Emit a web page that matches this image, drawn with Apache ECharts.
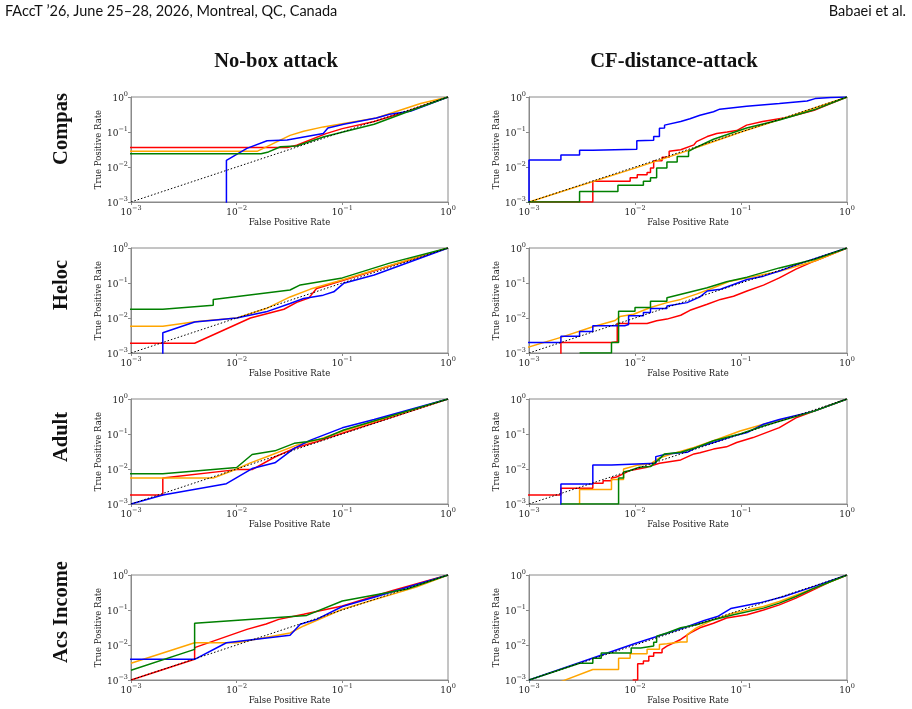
<!DOCTYPE html>
<html>
<head>
<meta charset="utf-8">
<script src="https://cdn.jsdelivr.net/npm/echarts@6/dist/echarts.min.js"></script>
<style>
  html, body { margin: 0; padding: 0; background: #fff; }
  #chart { width: 912px; height: 709px; }
</style>
</head>
<body>
<div id="chart"></div>
<script>
// labels
const datasets = ['Compas', 'Heloc', 'Adult', 'Acs Income'];
const attacks = ['No-box attack', 'CF-distance-attack'];
const curveColors = ['#ff0000', '#ffa500', '#0000ff', '#008000'];
const diagonal = [[0.001, 0.001], [1, 1]];

// ROC curves as [fpr, tpr] pairs (log-log)
// --- Compas
const compasNoboxRed = [[0.0001,0.036],[0.03,0.036],[0.037,0.042],[0.07,0.09],[0.1,0.125],[0.2,0.2],[0.4,0.38],[1,1]];
const compasNoboxOrange = [[0.0001,0.028],[0.0156,0.028],[0.032,0.08],[0.043,0.105],[0.066,0.14],[0.21,0.25],[0.55,0.65],[1,1]];
const compasNoboxBlue = [[0.008,0.0001],[0.008,0.0155],[0.0125,0.034],[0.0194,0.056],[0.03,0.059],[0.066,0.09],[0.073,0.13],[0.103,0.166],[0.21,0.25],[0.28,0.32],[0.44,0.39],[1,1]];
const compasNoboxGreen = [[0.0001,0.024],[0.017,0.024],[0.02,0.027],[0.026,0.038],[0.037,0.04],[0.067,0.073],[0.2,0.166],[0.38,0.345],[1,1]];

const compasCfRed = [[0.0001,0.001],[0.004,0.001],[0.004,0.0039],[0.009,0.0039],[0.009,0.0049],[0.0105,0.0049],[0.0105,0.006],[0.013,0.006],[0.013,0.007],[0.014,0.007],[0.014,0.0093],[0.015,0.0093],[0.015,0.015],[0.018,0.015],[0.018,0.019],[0.021,0.019],[0.021,0.028],[0.027,0.031],[0.036,0.043],[0.038,0.053],[0.048,0.074],[0.059,0.091],[0.074,0.1],[0.091,0.11],[0.113,0.157],[0.16,0.2],[0.27,0.26],[0.49,0.42],[0.7,0.65],[1,1]];
const compasCfOrange = [[0.001,0.001],[0.01,0.0093],[0.03,0.028],[0.06,0.058],[0.1,0.1],[0.3,0.29],[1,1]];
const compasCfBlue = [[0.001,0.0001],[0.001,0.0158],[0.002,0.0158],[0.002,0.022],[0.003,0.022],[0.003,0.03],[0.004,0.03],[0.004,0.032],[0.0104,0.032],[0.0104,0.056],[0.015,0.058],[0.015,0.074],[0.017,0.074],[0.017,0.127],[0.019,0.13],[0.019,0.157],[0.027,0.2],[0.033,0.24],[0.041,0.3],[0.055,0.38],[0.063,0.45],[0.113,0.54],[0.23,0.65],[0.42,0.77],[0.5,0.9],[0.7,0.96],[1,1]];
const compasCfGreen = [[0.0001,0.001],[0.003,0.001],[0.003,0.002],[0.0069,0.002],[0.0069,0.003],[0.012,0.003],[0.012,0.0039],[0.014,0.0039],[0.014,0.0049],[0.016,0.0049],[0.016,0.0093],[0.02,0.0093],[0.02,0.014],[0.025,0.014],[0.025,0.02],[0.032,0.02],[0.032,0.028],[0.036,0.034],[0.055,0.062],[0.113,0.13],[0.23,0.22],[0.49,0.43],[1,1]];

// --- Heloc
const helocNoboxRed = [[0.0001,0.0019],[0.004,0.0019],[0.0135,0.01],[0.028,0.0178],[0.037,0.028],[0.048,0.037],[0.057,0.07],[0.089,0.105],[1,1]];
const helocNoboxOrange = [[0.0001,0.0058],[0.002,0.0058],[0.0042,0.008],[0.01,0.01],[0.019,0.0186],[0.032,0.04],[0.05,0.067],[0.089,0.11],[1,1]];
const helocNoboxBlue = [[0.002,0.0001],[0.002,0.0038],[0.004,0.0077],[0.01,0.01],[0.019,0.015],[0.032,0.026],[0.043,0.036],[0.066,0.045],[0.083,0.056],[0.103,0.098],[0.2,0.17],[1,1]];
const helocNoboxGreen = [[0.0001,0.0178],[0.002,0.0178],[0.006,0.023],[0.006,0.034],[0.032,0.063],[0.04,0.088],[0.1,0.14],[0.28,0.37],[1,1]];

const helocCfRed = [[0.002,0.0001],[0.002,0.002],[0.006,0.002],[0.0068,0.0021],[0.0068,0.007],[0.013,0.007],[0.013,0.0075],[0.016,0.0083],[0.02,0.0093],[0.027,0.012],[0.033,0.0166],[0.048,0.0247],[0.064,0.034],[0.085,0.042],[0.114,0.059],[0.163,0.087],[0.23,0.14],[0.33,0.25],[0.49,0.42],[1,1]];
const helocCfOrange = [[0.0005,0.0008],[0.002,0.0028],[0.004,0.0056],[0.0065,0.0085],[0.0065,0.0095],[0.0072,0.011],[0.0097,0.0128],[0.014,0.02],[0.02,0.0275],[0.027,0.034],[0.038,0.048],[0.055,0.073],[0.079,0.113],[0.114,0.14],[0.23,0.218],[0.49,0.42],[1,1]];
const helocCfBlue = [[0.0001,0.002],[0.002,0.002],[0.002,0.003],[0.003,0.003],[0.003,0.0041],[0.004,0.0041],[0.004,0.006],[0.008,0.006],[0.008,0.0065],[0.0087,0.0065],[0.0087,0.0116],[0.012,0.0116],[0.012,0.0143],[0.014,0.0143],[0.014,0.0187],[0.02,0.0187],[0.02,0.022],[0.031,0.0275],[0.041,0.04],[0.048,0.059],[0.064,0.066],[0.085,0.091],[0.114,0.126],[0.163,0.157],[0.23,0.218],[0.33,0.33],[1,1]];
const helocCfGreen = [[0.003,0.001],[0.006,0.001],[0.006,0.002],[0.007,0.002],[0.007,0.0155],[0.01,0.0155],[0.01,0.02],[0.014,0.02],[0.014,0.03],[0.02,0.03],[0.02,0.038],[0.031,0.053],[0.048,0.073],[0.073,0.108],[0.114,0.147],[0.23,0.27],[0.49,0.47],[1,1]];

// --- Adult
const adultNoboxRed = [[0.0001,0.0018],[0.002,0.0018],[0.002,0.0055],[0.01,0.0096],[0.014,0.0096],[0.023,0.022],[0.035,0.039],[0.057,0.06],[0.1,0.105],[1,1]];
const adultNoboxOrange = [[0.0001,0.0055],[0.006,0.0055],[0.01,0.01],[0.0135,0.015],[0.019,0.022],[0.037,0.048],[0.057,0.067],[0.1,0.12],[1,1]];
const adultNoboxBlue = [[0.001,0.001],[0.002,0.0018],[0.008,0.0038],[0.014,0.0103],[0.023,0.015],[0.035,0.039],[0.05,0.067],[0.1,0.15],[0.2,0.26],[1,1]];
const adultNoboxGreen = [[0.0001,0.0073],[0.002,0.0073],[0.01,0.011],[0.014,0.026],[0.023,0.033],[0.035,0.054],[0.046,0.06],[0.067,0.075],[0.103,0.13],[1,1]];

const adultCfRed = [[0.0001,0.0018],[0.002,0.0018],[0.002,0.0028],[0.004,0.0028],[0.004,0.0039],[0.005,0.0039],[0.005,0.0046],[0.006,0.0046],[0.006,0.0055],[0.0067,0.0059],[0.009,0.0091],[0.013,0.0113],[0.017,0.0146],[0.027,0.0182],[0.036,0.027],[0.041,0.029],[0.055,0.037],[0.073,0.043],[0.091,0.057],[0.13,0.079],[0.23,0.152],[0.33,0.29],[0.49,0.45],[1,1]];
const adultCfOrange = [[0.003,0.0001],[0.003,0.0026],[0.006,0.0026],[0.006,0.005],[0.0078,0.005],[0.0078,0.01],[0.0104,0.0127],[0.014,0.0141],[0.017,0.0207],[0.023,0.028],[0.036,0.041],[0.055,0.064],[0.098,0.122],[0.163,0.19],[0.49,0.45],[1,1]];
const adultCfBlue = [[0.002,0.0001],[0.002,0.0037],[0.004,0.0037],[0.004,0.013],[0.006,0.013],[0.006,0.0145],[0.0157,0.0145],[0.0157,0.0226],[0.02,0.027],[0.031,0.03],[0.038,0.041],[0.055,0.057],[0.085,0.088],[0.114,0.11],[0.163,0.19],[0.23,0.26],[0.49,0.45],[1,1]];
const adultCfGreen = [[0.002,0.001],[0.007,0.001],[0.007,0.0055],[0.0078,0.0055],[0.0078,0.0082],[0.009,0.0091],[0.011,0.0113],[0.014,0.0117],[0.017,0.0195],[0.019,0.027],[0.027,0.03],[0.038,0.041],[0.055,0.064],[0.098,0.1],[0.163,0.17],[0.49,0.45],[1,1]];

// --- Acs Income
const acsNoboxRed = [[0.001,0.001],[0.004,0.0039],[0.004,0.0084],[0.0125,0.028],[0.019,0.04],[0.025,0.054],[0.043,0.076],[0.1,0.13],[0.3,0.36],[1,1]];
const acsNoboxOrange = [[0.001,0.003],[0.004,0.0116],[0.01,0.0116],[0.032,0.022],[0.043,0.035],[0.1,0.105],[0.5,0.45],[1,1]];
const acsNoboxBlue = [[0.0001,0.0039],[0.004,0.0039],[0.008,0.0116],[0.032,0.019],[0.04,0.039],[0.057,0.054],[0.1,0.126],[0.2,0.23],[1,1]];
const acsNoboxGreen = [[0.001,0.0019],[0.004,0.0075],[0.004,0.042],[0.046,0.07],[0.1,0.18],[0.41,0.4],[1,1]];

const acsCfRed = [[0.0095,0.001],[0.0106,0.001],[0.0106,0.0029],[0.012,0.0029],[0.012,0.0035],[0.0135,0.0035],[0.0135,0.0048],[0.015,0.0048],[0.015,0.006],[0.018,0.006],[0.018,0.0075],[0.02,0.0093],[0.027,0.0144],[0.033,0.022],[0.041,0.031],[0.055,0.042],[0.073,0.059],[0.114,0.073],[0.163,0.1],[0.23,0.14],[0.33,0.218],[0.7,0.65],[1,1]];
const acsCfOrange = [[0.002,0.0009],[0.004,0.002],[0.007,0.002],[0.007,0.0042],[0.009,0.0042],[0.009,0.0056],[0.013,0.0056],[0.013,0.0075],[0.017,0.0075],[0.017,0.0104],[0.02,0.0108],[0.027,0.0122],[0.031,0.0122],[0.031,0.0198],[0.038,0.031],[0.055,0.053],[0.085,0.082],[0.163,0.126],[0.23,0.175],[0.49,0.42],[1,1]];
const acsCfBlue = [[0.001,0.001],[0.01,0.011],[0.03,0.032],[0.045,0.05],[0.06,0.065],[0.08,0.11],[0.15,0.16],[0.25,0.24],[0.5,0.48],[1,1]];
const acsCfGreen = [[0.001,0.001],[0.003,0.003],[0.004,0.003],[0.004,0.0042],[0.0048,0.0042],[0.0048,0.0059],[0.0092,0.0059],[0.0092,0.0082],[0.0113,0.0082],[0.0113,0.0093],[0.015,0.0093],[0.015,0.012],[0.016,0.012],[0.016,0.0177],[0.02,0.022],[0.027,0.031],[0.038,0.038],[0.055,0.053],[0.085,0.073],[0.163,0.113],[0.23,0.157],[0.33,0.243],[0.49,0.42],[1,1]];

// rows x cols, curves in draw order red, orange, blue, green
const panels = [
  [[compasNoboxRed, compasNoboxOrange, compasNoboxBlue, compasNoboxGreen],
   [compasCfRed, compasCfOrange, compasCfBlue, compasCfGreen]],
  [[helocNoboxRed, helocNoboxOrange, helocNoboxBlue, helocNoboxGreen],
   [helocCfRed, helocCfOrange, helocCfBlue, helocCfGreen]],
  [[adultNoboxRed, adultNoboxOrange, adultNoboxBlue, adultNoboxGreen],
   [adultCfRed, adultCfOrange, adultCfBlue, adultCfGreen]],
  [[acsNoboxRed, acsNoboxOrange, acsNoboxBlue, acsNoboxGreen],
   [acsCfRed, acsCfOrange, acsCfBlue, acsCfGreen]]
];

const colLeft = [131, 529];
const colWidth = [317, 318];
const rowTop = [97, 248, 399, 575];
const plotH = 105;

const serif = "'DejaVu Serif', serif";
const titleFont = "'Liberation Serif', 'DejaVu Serif', serif";

function powLabel(v) {
  const e = Math.round(Math.log10(v));
  return '{b|10}{s|' + (e < 0 ? '\u2212' + (-e) : e) + '}';
}
const tickRich = {
  b: { fontSize: 9, fontFamily: serif, color: '#222', lineHeight: 12, verticalAlign: 'bottom' },
  s: { fontSize: 6.5, fontFamily: serif, color: '#222', lineHeight: 12, verticalAlign: 'top', padding: [0, 0, 3, 0] }
};

const chart = echarts.init(document.getElementById('chart'), null, { renderer: 'canvas' });

const grid = [], xAxis = [], yAxis = [], series = [];
let gi = 0;
for (let r = 0; r < 4; r++) {
  for (let c = 0; c < 2; c++) {
    grid.push({
      left: colLeft[c], top: rowTop[r], width: colWidth[c], height: plotH,
      show: true, borderColor: '#8a8a8a', borderWidth: 1, backgroundColor: 'transparent'
    });
    const axisCommon = {
      gridIndex: gi, type: 'log', logBase: 10, min: 0.001, max: 1,
      nameLocation: 'middle',
      nameTextStyle: { fontFamily: serif, fontSize: 8.5, color: '#222' },
      axisLine: { show: true, lineStyle: { color: '#8a8a8a', width: 1 } },
      axisTick: { show: true, length: 3, lineStyle: { color: '#8a8a8a' } },
      splitLine: { show: false },
      minorTick: { show: false },
      axisLabel: { formatter: powLabel, rich: tickRich, margin: 3 }
    };
    xAxis.push(Object.assign({}, axisCommon, { name: 'False Positive Rate', nameGap: 13 }));
    yAxis.push(Object.assign({}, axisCommon, { name: 'True Positive Rate', nameGap: 24 }));

    panels[r][c].forEach((curve, k) => {
      series.push({
        type: 'line', xAxisIndex: gi, yAxisIndex: gi, data: curve,
        showSymbol: false, symbol: 'none', clip: true, silent: true,
        lineStyle: { color: curveColors[k], width: 1.5 }, z: 2 + k
      });
    });
    series.push({
      type: 'line', xAxisIndex: gi, yAxisIndex: gi, data: diagonal,
      showSymbol: false, symbol: 'none', clip: true, silent: true,
      lineStyle: { color: '#000', width: 1, type: [1.5, 2] }, z: 10
    });
    gi++;
  }
}

const rowLabelY = [129, 285, 437, 612];
const graphic = [
  { type: 'text', left: 5, top: 4,
    style: { text: 'FAccT \u201926, June 25\u201328, 2026, Montreal, QC, Canada', font: "14.5px Lato, sans-serif", fill: '#111' } },
  { type: 'text', right: 6, top: 4,
    style: { text: 'Babaei et al.', font: "14.5px Lato, sans-serif", fill: '#111' } }
];
const colTitleX = [276, 674];
attacks.forEach((t, i) => {
  graphic.push({ type: 'text', x: colTitleX[i], y: 62,
    style: { text: t, font: "bold 20.5px " + titleFont, fill: '#111', textAlign: 'center', textVerticalAlign: 'middle', align: 'center', verticalAlign: 'middle' } });
});
datasets.forEach((t, i) => {
  graphic.push({ type: 'text', x: 62, y: rowLabelY[i], rotation: Math.PI / 2,
    style: { text: t, font: "bold 20.5px " + titleFont, fill: '#111', textAlign: 'center', textVerticalAlign: 'middle', align: 'center', verticalAlign: 'middle' } });
});

chart.setOption({
  animation: false,
  backgroundColor: '#fff',
  grid: grid,
  xAxis: xAxis,
  yAxis: yAxis,
  series: series,
  graphic: graphic
});
</script>
</body>
</html>
